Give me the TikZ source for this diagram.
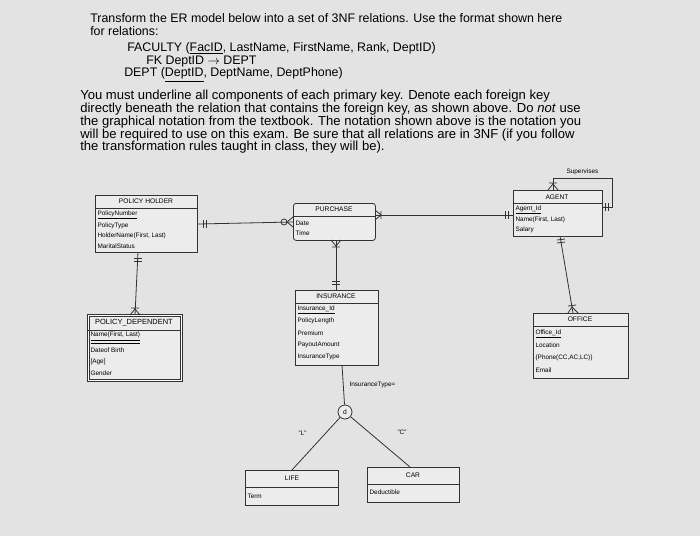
\documentclass[tikz,border=0pt]{standalone}
\usepackage{fontspec}
\setmainfont{Liberation Sans}
\begin{document}
\begin{tikzpicture}[x=0.75pt,y=-0.75pt,
  ent/.style={draw=black!80,line width=0.6pt,fill=white!85!gray,inner sep=0,anchor=north west},
  ttl/.style={font=\fontsize{5}{6}\selectfont,anchor=center},
  att/.style={font=\fontsize{4.8}{6}\selectfont,anchor=west,inner sep=1pt},
  txt/.style={font=\fontsize{9.3}{10}\selectfont,anchor=west,inner sep=0},
  ptx/.style={font=\fontsize{9.8}{10}\selectfont,anchor=west,inner sep=0},
  ln/.style={draw=black!80,line width=0.6pt}]
\fill[black!11] (0,0) rectangle (700,536);
\useasboundingbox (0,0) rectangle (700,536);
% header text
\node[txt] (t1) at (90,18) {Transform the ER model below into a set of 3NF relations. Use the format shown here};
\node[txt] (t2) at (90,31) {for relations:};
\node[txt] (t3) at (127,48) {FACULTY (\underline{FacID}, LastName, FirstName, Rank, DeptID)};
\node[txt] (t4) at (146,62) {FK DeptID $\rightarrow$ DEPT};
\node[txt] (t5) at (124,75) {DEPT (\underline{DeptID}, DeptName, DeptPhone)};
\node[ptx] (p1) at (80,96) {You must underline all components of each primary key. Denote each foreign key};
\node[ptx] (p2) at (80,109) {directly beneath the relation that contains the foreign key, as shown above. Do \emph{not} use};
\node[ptx] (p3) at (80,122) {the graphical notation from the textbook. The notation shown above is the notation you};
\node[ptx] (p4) at (80,135) {will be required to use on this exam. Be sure that all relations are in 3NF (if you follow};
\node[ptx] (p5) at (80,147) {the transformation rules taught in class, they will be).};
% POLICY HOLDER
\node[ent,minimum width=102*0.75pt,minimum height=57*0.75pt] (ph) at (95,195) {};
\draw[ln] (95,208)--(197,208);
\node[ttl] at (146,201) {POLICY HOLDER};
\node[att] at (96,215) {\underline{PolicyNumber}};
\node[att] at (96,226) {PolicyType};
\node[att] at (96,236) {HolderName(First, Last)};
\node[att] at (96,246) {MaritalStatus};
% PURCHASE
\node[ent,rounded corners=2pt,minimum width=82*0.75pt,minimum height=37*0.75pt] (pu) at (293,203) {};
\draw[ln] (293,216)--(375,216);
\node[ttl] at (334,209) {PURCHASE};
\node[att] at (294,223) {Date};
\node[att] at (294,233) {Time};
% INSURANCE
\node[ent,minimum width=83*0.75pt,minimum height=75*0.75pt] (in) at (295,290) {};
\draw[ln] (295,303)--(378,303);
\node[ttl] at (336,296) {INSURANCE};
\node[att] at (296,310) {\underline{Insurance\_Id}};
\node[att] at (296,321) {PolicyLength};
\node[att] at (296,333) {Premium};
\node[att] at (296,345) {PayoutAmount};
\node[att] at (296,357) {InsuranceType};
% POLICY DEPENDENT
\node[ent,double,minimum width=93*0.75pt,minimum height=65*0.75pt] (pd) at (88,315) {};
\draw[ln] (88,330)--(181,330);
\node[ttl,font=\fontsize{5.6}{6}\selectfont] at (134,323) {POLICY\_DEPENDENT};
\node[att] at (89,338) {\underline{\underline{Name(First, Last)}}};
\node[att] at (89,350) {Dateof Birth};
\node[att] at (89,362) {[Age]};
\node[att] at (89,373) {Gender};
% AGENT
\node[ent,minimum width=89*0.75pt,minimum height=46*0.75pt] (ag) at (513,190) {};
\draw[ln] (513,203)--(602,203);
\node[ttl] at (557,197) {AGENT};
\node[att] at (514,210) {\underline{Agent\_Id}};
\node[att] at (514,220) {Name(First, Last)};
\node[att] at (514,230) {Salary};
\node[att] at (565,172) {Supervises};
% OFFICE
\node[ent,minimum width=95*0.75pt,minimum height=65*0.75pt] (of) at (533,313) {};
\draw[ln] (533,326)--(628,326);
\node[ttl] at (580,319) {OFFICE};
\node[att] at (534,334) {\underline{Office\_Id}};
\node[att] at (534,345) {Location};
\node[att] at (534,358) {\{Phone(CC,AC,LC)\}};
\node[att] at (534,370) {Email};
% LIFE, CAR
\node[ent,minimum width=93*0.75pt,minimum height=35*0.75pt] (li) at (245,470) {};
\draw[ln] (245,487)--(338,487);
\node[ttl] at (292,478) {LIFE};
\node[att] at (246,496) {Term};
\node[ent,minimum width=92*0.75pt,minimum height=35*0.75pt] (ca) at (367,467) {};
\draw[ln] (367,484)--(459,484);
\node[ttl] at (413,475) {CAR};
\node[att] at (368,492) {Deductible};
% disjoint circle
\node[draw=black!80,line width=0.6pt,circle,fill=white!85!gray,minimum size=14*0.75pt,inner sep=0,font=\fontsize{5}{6}\selectfont] (d) at (345,412) {d};
\node[att] at (348,385) {InsuranceType=};
\node[att] at (297,433) {"L"};
\node[att] at (396,432) {"C"};
% connectors
\draw[ln] (ph.east|-0,224) -- (pu.west|-0,222);
\draw[ln] (pu.east|-0,215) -- (ag.west|-0,215);
\draw[ln] (336,240) -- (336,290);
\draw[ln] (138,252) -- (135,315);
\draw[ln] (560,236) -- (573,313);
\draw[ln] (553,190) -- (553,178) -- (612,178) -- (612,207) -- (602,207);
\draw[ln] (342,365) -- (d);
\draw[ln] (d) -- (292,470);
\draw[ln] (d) -- (410,467);
% cardinality marks
\draw[ln] (203,220)--(203,228) (206,220)--(206,228);
\draw[ln] (284,222) circle (3);
\draw[ln] (287,222)--(293,217) (287,222)--(293,227);
\draw[ln] (375,210)--(381,215)--(375,220) (381,211)--(381,219);
\draw[ln] (505,211)--(505,219) (508,211)--(508,219);
\draw[ln] (331,240)--(336,246)--(341,240) (332,247)--(340,247);
\draw[ln] (332,281)--(340,281) (332,284)--(340,284);
\draw[ln] (134,258)--(142,258) (134,261)--(142,261);
\draw[ln] (130,315)--(135,309)--(140,315) (131,308)--(139,308);
\draw[ln] (557,240)--(565,239) (557,243)--(565,242);
\draw[ln] (568,313)--(572,307)--(578,313) (568,306)--(576,305);
\draw[ln] (548,190)--(553,184)--(558,190) (549,183)--(557,183);
\draw[ln] (605,203)--(605,211) (608,203)--(608,211);
\end{tikzpicture}
\end{document}
